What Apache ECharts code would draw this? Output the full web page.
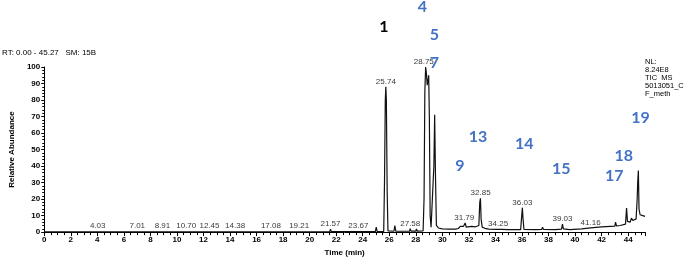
<!DOCTYPE html>
<html>
<head>
<meta charset="utf-8">
<script src="https://cdn.jsdelivr.net/npm/echarts@6/dist/echarts.min.js"></script>
<style>
html,body{margin:0;padding:0;background:#fff;}
#chart{width:685px;height:262px;}
</style>
</head>
<body>
<div id="chart"></div>
<script>
// ---- data ----
var traceTime = [0,3.95,4.03,4.1,5.2,5.3,5.4,6.95,7.01,7.07,8.85,8.91,8.97,10.64,10.70,10.76,12.39,12.45,12.51,14.32,14.38,14.44,17.02,17.08,17.14,19.15,19.21,19.27,21.51,21.57,21.63,23.61,23.67,23.73,
  24.95,25.02,25.09,25.58,25.64,25.70,25.74,25.78,25.84,25.90,26.35,26.42,26.49,26.90,26.95,27.00,27.52,27.58,27.64,28.00,28.05,28.10,
  28.55,28.62,28.68,28.74,28.80,28.86,28.92,28.97,29.02,29.08,29.15,29.22,29.30,29.36,29.42,29.48,29.55,29.70,30.00,30.50,31.00,31.20,
  31.35,31.45,31.60,31.72,31.80,31.95,32.20,32.30,32.50,32.60,32.75,32.82,32.87,32.92,33.00,33.20,33.50,34.10,34.25,34.40,35.00,35.90,35.98,36.03,36.08,36.15,
  37.00,37.48,37.55,37.62,38.50,38.98,39.05,39.12,39.60,40.50,41.16,42.00,43.00,43.05,43.12,43.40,43.45,43.50,43.80,43.88,43.95,44.05,44.15,44.25,44.35,
  44.60,44.68,44.72,44.77,44.82,44.90,45.10,45.27];
var traceAbund = [0.2,0.2,0.8,0.2,0.2,0.6,0.2,0.2,0.7,0.2,0.2,0.7,0.2,0.2,0.7,0.2,0.2,0.7,0.2,0.2,0.7,0.2,0.2,1.0,0.2,0.2,0.7,0.2,0.3,1.8,0.3,0.3,0.8,0.3,
  0.3,3.0,0.3,0.4,30,80,88,80,25,0.8,0.5,4.0,0.6,0.5,1.5,0.5,0.5,2.0,0.6,0.6,2.0,0.6,
  0.8,20,85,100,96,89,92,95,70,10,3,4,3,40,71,35,4,2.5,2.0,1.8,1.8,2.2,
  3.5,2.5,3.5,5.5,3.0,2.3,3.5,2.4,3.2,2.5,4.0,18,20.5,8,3.0,2.3,1.8,1.6,2.2,1.6,1.5,1.5,10,14.8,8,1.6,
  1.5,1.6,3.0,1.6,1.5,1.8,4.8,1.9,1.5,2.0,2.6,3.2,3.6,6.0,3.8,4.0,5.0,4.2,4.8,14.5,6.5,5.5,6.0,8.5,7.0,
  8.0,20,30,37.3,14,10.5,10,9.5];

var peakLabelText = ['4.03','7.01','8.91','10.70','12.45','14.38','17.08','19.21','21.57','23.67','25.74','27.58','28.75','31.79','32.85','34.25','36.03','39.03','41.16'];
var peakLabelTime = [4.03,7.01,8.91,10.70,12.45,14.38,17.08,19.21,21.57,23.67,25.74,27.58,28.60,31.65,32.88,34.20,36.03,39.05,41.17];
var peakLabelHeight = [0.8,0.7,0.7,0.7,0.7,0.7,1.0,0.7,1.8,0.8,88,2.0,100,5.5,20.5,2.2,14.8,4.8,2.6];

var xTickInterval = 2;
var yTickInterval = 10;

var compoundNumbers = ['1','4','5','7','9','13','14','15','17','18','19'];

// ---- layout ----
var numberPos = [[384,27,'#000'],[422.5,7,'#4472C4'],[434.5,34.5,'#4472C4'],[434.5,63,'#4472C4'],[460,165.5,'#4472C4'],
  [478,137,'#4472C4'],[524.3,143.5,'#4472C4'],[561.3,169,'#4472C4'],[614.3,176,'#4472C4'],[623.7,155.7,'#4472C4'],[640.5,117.5,'#4472C4']];

var lineData = traceTime.map(function(t,i){return [t, traceAbund[i]];});
var labelData = peakLabelTime.map(function(t,i){return [t, peakLabelHeight[i], peakLabelText[i]];});

var font = "'Liberation Sans', Arial, sans-serif";
var chart = echarts.init(document.getElementById('chart'), null, {renderer:'canvas'});

var graphics = compoundNumbers.map(function(s,i){
  return {type:'text', x:numberPos[i][0], y:numberPos[i][1],
    style:{text:s, fill:numberPos[i][2], font:"bold 16px Lato, 'Open Sans', sans-serif", align:'center', verticalAlign:'middle'}};
});
graphics.push({type:'text', x:2, y:53, style:{text:'RT: 0.00 - 45.27   SM: 15B', fill:'#000', font:'8px '+font, verticalAlign:'middle'}});
graphics.push({type:'text', x:645, y:58, style:{text:'NL:\n8.24E8\nTIC  MS\n5013051_C\nF_meth', fill:'#000', font:'7.5px '+font, lineHeight:8, verticalAlign:'top'}});

chart.setOption({
  animation:false,
  grid:{left:31.5, right:40, top:67, bottom:24},
  xAxis:{type:'value', min:0, max:45.27, interval:xTickInterval,
    name:'Time (min)', nameLocation:'middle', nameGap:14,
    nameTextStyle:{fontFamily:font, fontSize:8, fontWeight:'bold', color:'#000'},
    axisLine:{show:true, onZero:false, lineStyle:{color:'#000', width:1}},
    axisTick:{show:true, length:4, lineStyle:{color:'#000'}},
    minorTick:{show:true, splitNumber:4, length:3, lineStyle:{color:'#000'}},
    splitLine:{show:false},
    axisLabel:{fontFamily:font, fontSize:8, fontWeight:'bold', color:'#000', margin:4,
      formatter:function(v){ return (Math.abs(v-45.27)<0.01)?'':String(Math.round(v)); }}
  },
  yAxis:{type:'value', min:0, max:100, interval:yTickInterval,
    name:'Relative Abundance', nameLocation:'middle', nameGap:18,
    nameTextStyle:{fontFamily:font, fontSize:8, fontWeight:'bold', color:'#000'},
    axisLine:{show:true, lineStyle:{color:'#000', width:1}},
    axisTick:{show:true, length:3, lineStyle:{color:'#000'}},
    minorTick:{show:true, splitNumber:5, length:2, lineStyle:{color:'#000'}},
    splitLine:{show:false},
    axisLabel:{fontFamily:font, fontSize:8, fontWeight:'bold', color:'#000', margin:4}
  },
  series:[
    {type:'line', data:lineData, showSymbol:false, symbol:'none', lineStyle:{color:'#111', width:1.2}, silent:true, z:2},
    {type:'scatter', data:labelData, symbolSize:0, silent:true, z:3,
      label:{show:true, position:'top', distance:1, formatter:function(p){return p.value[2];},
        fontFamily:font, fontSize:8, color:'#000'}}
  ],
  graphic:graphics
});
</script>
</body>
</html>
